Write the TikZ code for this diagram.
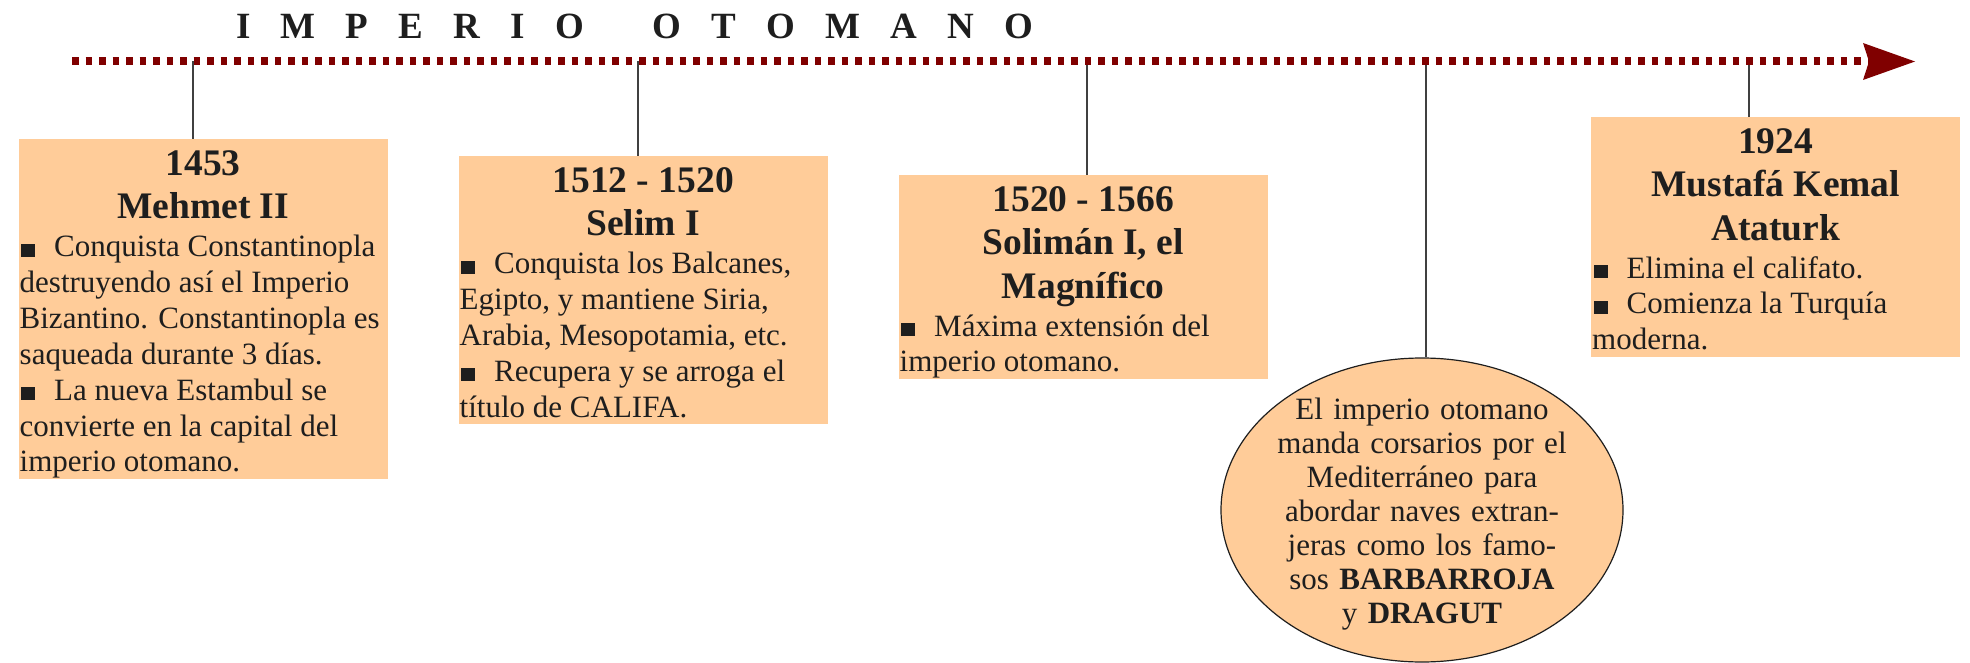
\documentclass[tikz,border=0pt]{standalone}
\usepackage{fontspec}
\setmainfont{Liberation Serif}
\usetikzlibrary{arrows.meta,shapes.geometric}
\definecolor{peach}{RGB}{255,204,153}
\definecolor{tlred}{RGB}{128,0,0}
\definecolor{ink}{RGB}{30,30,30}
\setlength{\parindent}{0pt}
\setlength{\parskip}{0pt}
\newcommand\evhead{\bfseries\fontsize{37.5}{43.5}\selectfont}
\newcommand\evbody{\mdseries\fontsize{31}{35.9}\selectfont}
\newcommand\evbul{\hspace*{1.5pt}\rule{14pt}{13pt}\hspace{19pt}}
\newcommand\evtop{\rule{0pt}{36pt}}
\newcommand\evbot{\rule[-7pt]{0pt}{7pt}\par}
\newcommand\evstart{\spaceskip=0pt\xspaceskip=0pt\raggedright}
\newcommand\tgap{\hspace{30.2pt}}
\begin{document}
\begin{tikzpicture}[x=1pt,y=-1pt,
  evbox/.style={anchor=north west, fill=peach, inner xsep=1pt, inner ysep=0pt,
                text width=367pt, text=ink},
  conn/.style={draw=black!75, line width=1.2pt},
  timeline/.style={draw=tlred, line width=8pt, dash pattern=on 6.5pt off 7pt,
                   -{Stealth[length=52pt,width=37pt,inset=6pt,line width=0pt]}}
]
\useasboundingbox (0,0) rectangle (1970,663);

% title
\node[anchor=base west, inner sep=0pt, text=ink, font=\bfseries\fontsize{37}{44}\selectfont]
  (title) at (236,39) {I\tgap M\tgap P\tgap E\tgap R\tgap I\tgap O\hspace{69pt}O\tgap T\tgap O\tgap M\tgap A\tgap N\tgap O};

% timeline coordinates
\coordinate (tl0) at (72,61.5);
\coordinate (tlend) at (1915,61.5);
\coordinate (t1) at (193,61.5);
\coordinate (t2) at (638,61.5);
\coordinate (t3) at (1087,61.5);
\coordinate (t4) at (1426,61.5);
\coordinate (t5) at (1749,61.5);

% boxes
\node[evbox] (b1) at (18.5,139) {\evstart
  {\centering\evhead\evtop 1453\\Mehmet II\par}\vspace{2pt}%
  \evbody\evbul Conquista Constantinopla\\
  destruyendo así el Imperio\\
  Bizantino. Constantinopla es\\
  saqueada durante 3 días.\\
  \evbul La nueva Estambul se\\
  convierte en la capital del\\
  imperio otomano.\evbot};

\node[evbox] (b2) at (458.5,156) {\evstart
  {\centering\evhead\evtop 1512 - 1520\\Selim I\par}\vspace{2pt}%
  \evbody\evbul Conquista los Balcanes,\\
  Egipto, y mantiene Siria,\\
  Arabia, Mesopotamia, etc.\\
  \evbul Recupera y se arroga el\\
  título de CALIFA.\evbot};

\node[evbox] (b3) at (898.5,175) {\evstart
  {\centering\evhead\evtop 1520 - 1566\\Solimán I, el\\Magnífico\par}\vspace{2pt}%
  \evbody\evbul Máxima extensión del\\
  imperio otomano.\evbot};

\node[evbox] (b5) at (1591,117) {\evstart
  {\centering\evhead\evtop 1924\\Mustafá Kemal\\Ataturk\par}\vspace{2pt}%
  \evbody\evbul Elimina el califato.\\
  \evbul Comienza la Turquía\\
  moderna.\evbot};

% ellipse
\node[ellipse, draw=ink, line width=1.2pt, fill=peach, minimum width=402pt,
      minimum height=304pt, inner sep=0pt] (ell) at (1422,510) {};
\node[anchor=north, inner sep=0pt, text width=400pt, align=center, text=ink,
      font=\fontsize{31}{34}\selectfont] (ellt) at (1422,394) {%
  \rule{0pt}{25pt}El imperio otomano\\
  manda corsarios por el\\
  Mediterráneo para\\
  abordar naves extran-\\
  jeras como los famo-\\
  sos \textbf{BARBARROJA}\\
  y \textbf{DRAGUT}};

% connectors
\draw[conn] (t1) -- (t1 |- b1.north);
\draw[conn] (t2) -- (t2 |- b2.north);
\draw[conn] (t3) -- (t3 |- b3.north);
\draw[conn] (t4) -- (t4 |- ell.north);
\draw[conn] (t5) -- (t5 |- b5.north);

% timeline
\draw[timeline] (tl0) -- (tlend);
\end{tikzpicture}
\end{document}
